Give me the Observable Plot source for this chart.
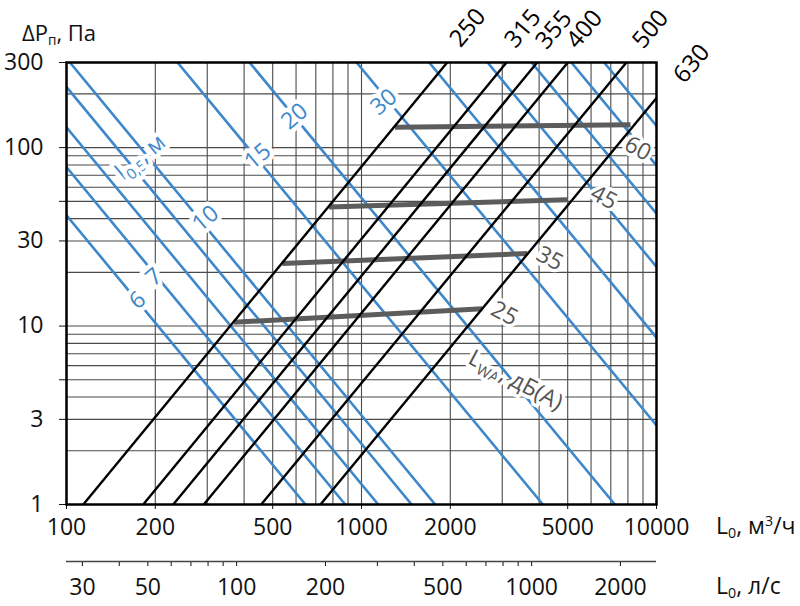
<!DOCTYPE html>
<html><head><meta charset="utf-8">
<script src="https://cdn.jsdelivr.net/npm/d3@7"></script>
<script src="https://cdn.jsdelivr.net/npm/@observablehq/plot@0.6"></script>
<style>
body{margin:0;background:#fff;font-family:'Open Sans',sans-serif;}
#wrap{position:relative;width:800px;height:606px;overflow:hidden;}
#wrap svg{display:block;}
.ttl{position:absolute;white-space:nowrap;line-height:1;color:#111;}
.ttl sub{font-size:0.62em;vertical-align:-0.3em;line-height:0;}
.ttl sup{font-size:0.62em;vertical-align:0.55em;line-height:0;}
</style></head>
<body><div id="wrap"></div>
<script>
// ---- axes / ticks ----
const flowTicks = [100,200,500,1000,2000,5000,10000];
const pressureTicks = [1,3,5,10,30,50,100,300];
const flowGrid = [100,200,300,400,500,600,700,800,900,1000,2000,3000,4000,5000,6000,7000,8000,9000,10000];
const pressureGrid = [1,2,3,4,5,6,7,8,9,10,20,30,40,50,60,70,80,90,100,200,300];
const lsDomain = [26.5, 2650];
const lsTicks = [30,40,50,60,70,80,90,100,200,300,400,500,600,700,800,900,1000,2000];
const lsLabels = [30,50,100,200,500,1000,2000];

// ---- duct diameters (black lines) ----
const diameters = [250,315,355,400,500,630];
const diamStartL = [114,182,230,292,457,726];
const diamStartP = [1,1,1,1,1,1];
const diamEndL = [1952,3101,3940,5004,7907,10000];
const diamEndP = [300,300,300,300,300,190];

// ---- throw length l0,5 (blue lines) ----
const throwLengths = [6,7,8,9,10,15,20,30,40,50,60,70,80];
const throwL1 = [646,881,1140,1479,1778,4121,7228,16670,29380,46340,65310,89130,115080];   // at 1 Pa
const throwL300 = [37.3,50.9,65.8,85.4,102.7,237.9,417.3,962.5,1696,2675,3771,5146,6644]; // at 300 Pa

// ---- noise LwA (gray lines) ----
const noiseLevels = [25,35,45,60];
const noiseStartL = [370,539,776,1299];
const noiseStartP = [10.5,22.4,46.5,130];
const noiseEndL = [2566,3648,4989,8166];
const noiseEndP = [12.5,25.5,51,134.5];

// ---- annotation anchors (data coordinates) ----
const throwLabelText = ["6","7","10","15","20","30","L05M"];
const throwLabelL = [174,198,296,445,593,1190,178];
const throwLabelP = [13.95,18.8,40,89.4,149.8,180,88.5];
const noiseLabelText = ["25","35","45","60","LWADBA"];
const noiseLabelL = [3052,4348,6628,8643,3327];
const noiseLabelP = [11.75,23.9,52.5,98.7,4.97];
const diamLabelL = [2292,3525,4487,5701,9543,13161];
const diamLabelP = [470,465,458,460,460,295.5];

const BLUE = "#3d87cb", GRAY = "#5c5c5c", GRID = "#4a4a4a";
const FONT = "'Open Sans', sans-serif";

const blueSegs = throwLengths.map((t,i)=>({t, x1:throwL1[i], y1:1, x2:throwL300[i], y2:300}));
const blackSegs = diameters.map((d,i)=>({d, x1:diamStartL[i], y1:diamStartP[i], x2:diamEndL[i], y2:diamEndP[i]}));
const graySegs = noiseLevels.map((n,i)=>({n, x1:noiseStartL[i], y1:noiseStartP[i], x2:noiseEndL[i], y2:noiseEndP[i]}));
const blueLabels = throwLabelText.map((s,i)=>({s, x:throwLabelL[i], y:throwLabelP[i]}));
const grayLabels = noiseLabelText.map((s,i)=>({s, x:noiseLabelL[i], y:noiseLabelP[i]}));
const blackLabels = diameters.map((d,i)=>({s:String(d), x:diamLabelL[i], y:diamLabelP[i]}));

const main = Plot.plot({
  width: 800, height: 545,
  marginLeft: 66, marginRight: 144, marginTop: 62, marginBottom: 41,
  style: {fontFamily: FONT, fontSize: "23px", background: "white", color: "#111", overflow: "visible"},
  x: {type: "log", domain: [100, 10000], ticks: flowTicks, tickFormat: d => String(d), tickSize: 5, tickPadding: 9, label: null},
  y: {type: "log", domain: [1, 300], ticks: pressureTicks, tickFormat: d => String(d), tickSize: 7, tickPadding: 16, label: null},
  marks: [
    Plot.ruleX(flowGrid, {stroke: GRID, strokeWidth: 1.1}),
    Plot.ruleY(pressureGrid, {stroke: GRID, strokeWidth: 1.1}),
    Plot.link(blueSegs, {x1: "x1", y1: "y1", x2: "x2", y2: "y2", stroke: BLUE, strokeWidth: 2.6, clip: true}),
    Plot.link(graySegs, {x1: "x1", y1: "y1", x2: "x2", y2: "y2", stroke: GRAY, strokeWidth: 5, clip: true}),
    Plot.link(blackSegs, {x1: "x1", y1: "y1", x2: "x2", y2: "y2", stroke: "#000", strokeWidth: 2.4, clip: true}),
    Plot.frame({stroke: "#000", strokeWidth: 2.5}),
    Plot.text(blueLabels, {x: "x", y: "y", text: "s", rotate: -40, fill: BLUE, stroke: "white", strokeWidth: 9, fontSize: 23, textAnchor: "middle", lineAnchor: "middle"}),
    Plot.text(grayLabels, {x: "x", y: "y", text: "s", rotate: 28, fill: "#555", stroke: "white", strokeWidth: 7, fontSize: 23, textAnchor: "middle", lineAnchor: "middle"}),
    Plot.text(blackLabels, {x: "x", y: "y", text: "s", rotate: -50, fill: "#000", fontSize: 24, textAnchor: "middle", lineAnchor: "middle"})
  ]
});

// subscript formatting for rotated labels
main.querySelectorAll("text").forEach(t => {
  if (t.textContent === "L05M") {
    t.innerHTML = 'l<tspan dx="1" dy="5" font-size="15">0,5</tspan><tspan dy="-5">, м</tspan>';
  } else if (t.textContent === "LWADBA") {
    t.innerHTML = 'L<tspan dy="5" font-size="15">WA</tspan><tspan dy="-5">, дБ(А)</tspan>';
  }
});

const second = Plot.plot({
  width: 800, height: 61,
  marginLeft: 66, marginRight: 144, marginTop: 15, marginBottom: 45,
  style: {fontFamily: FONT, fontSize: "23px", background: "white", color: "#111", overflow: "visible"},
  x: {type: "log", domain: lsDomain, ticks: lsTicks, tickFormat: d => lsLabels.includes(d) ? String(d) : "", tickSize: 5, tickPadding: 12, label: null},
  y: {domain: [0, 1], axis: null},
  marks: [
    Plot.ruleY([0], {stroke: "#444", strokeWidth: 1.6})
  ]
});

const wrap = document.getElementById("wrap");
wrap.appendChild(main);
wrap.appendChild(second);

function addTitle(html, left, top, size) {
  const d = document.createElement("div");
  d.className = "ttl";
  d.style.left = left + "px";
  d.style.top = top + "px";
  d.style.fontSize = size + "px";
  d.innerHTML = html;
  wrap.appendChild(d);
}
addTitle('ΔP<sub>п</sub>, Па', 22, 21, 22);
addTitle('L<sub>0</sub>, м<sup>3</sup>/ч', 716, 514, 23);
addTitle('L<sub>0</sub>, л/с', 716, 574, 23);
</script>
</body></html>
